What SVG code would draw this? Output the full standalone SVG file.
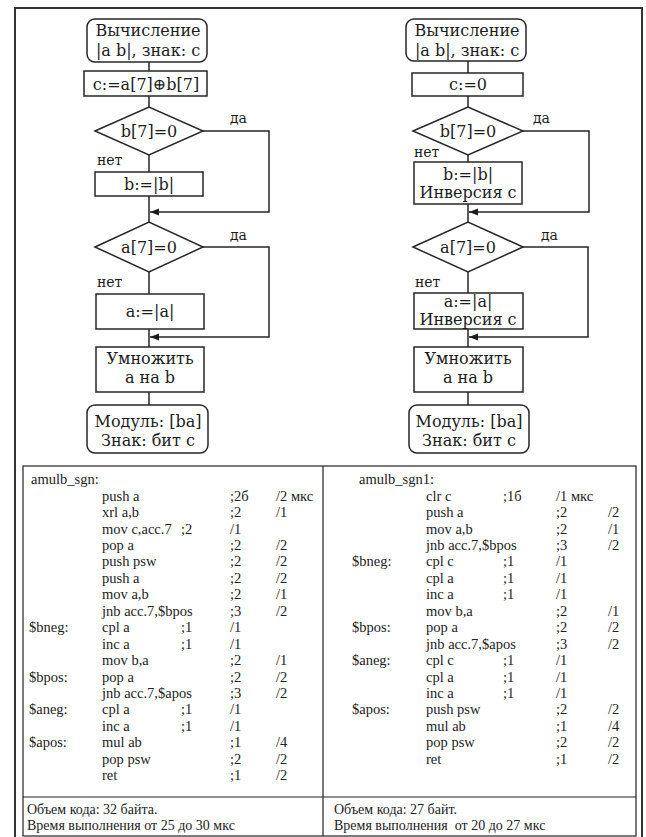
<svg xmlns="http://www.w3.org/2000/svg" width="646" height="837" viewBox="0 0 646 837">
<style>
  .fc text { font-family: "DejaVu Serif", "Liberation Serif", serif; font-size: 16px; fill: #1c1c1c; text-anchor: middle; }
  .fc text.lbl { font-size: 14px; text-anchor: start; }
  .box { fill: #fff; stroke: #262626; stroke-width: 1.5; }
  .wire { fill: none; stroke: #262626; stroke-width: 1.5; }
  .frame { fill: none; stroke: #333; stroke-width: 2; }
  .grid { fill: none; stroke: #222; stroke-width: 1.2; }
  .code text { font-family: "Liberation Serif", "Times New Roman", serif; font-size: 14.5px; fill: #222; }
  .code text.sum { font-size: 14px; }
</style>
<defs>
  <marker id="arr" markerUnits="userSpaceOnUse" markerWidth="10" markerHeight="8" refX="9" refY="3.5" orient="auto">
    <path d="M0,0 L9,3.5 L0,7 z" fill="#1c1c1c"/>
  </marker>
</defs>
<rect width="646" height="837" fill="#fff"/>
<path class="frame" d="M15,840 V8 H642 V840"/>

<!-- left flowchart: sign via XOR -->
<g class="fc">
  <g id="l-start"><rect class="box" x="87" y="19" width="120" height="43" rx="8"/><text x="148" y="36">Вычисление</text><text x="148" y="56">|a b|, знак: c</text></g>
  <g id="l-xor"><rect class="box" x="84" y="71" width="123" height="25"/><text x="146" y="90">c:=a[7]⊕b[7]</text></g>
  <g id="l-testb"><polygon class="box" points="95,131 149,107 203,131 149,155"/><text x="149" y="137">b[7]=0</text></g>
  <g id="l-absb"><rect class="box" x="95" y="172" width="108" height="24"/><text x="149" y="190">b:=|b|</text></g>
  <g id="l-testa"><polygon class="box" points="95,247 149,222 203,247 149,272"/><text x="149" y="253">a[7]=0</text></g>
  <g id="l-absa"><rect class="box" x="96" y="294" width="108" height="35"/><text x="150" y="317">a:=|a|</text></g>
  <g id="l-mul"><rect class="box" x="96" y="347" width="108" height="45"/><text x="150" y="364">Умножить</text><text x="150" y="383">a на b</text></g>
  <g id="l-end"><rect class="box" x="87" y="405" width="121" height="48" rx="8"/><text x="148" y="427">Модуль: [ba]</text><text x="148" y="446">Знак: бит c</text></g>
  <text class="lbl" x="230" y="123">да</text>
  <text class="lbl" x="97" y="165">нет</text>
  <text class="lbl" x="230" y="240">да</text>
  <text class="lbl" x="97" y="287">нет</text>
</g>

<!-- right flowchart: sign via inversion -->
<g class="fc">
  <g id="r-start"><rect class="box" x="406" y="19" width="120" height="42" rx="8"/><text x="467" y="36">Вычисление</text><text x="467" y="56">|a b|, знак: c</text></g>
  <g id="r-clr"><rect class="box" x="412" y="73" width="111" height="23"/><text x="468" y="90">c:=0</text></g>
  <g id="r-testb"><polygon class="box" points="413,131 468,107 523,131 468,155"/><text x="468" y="137">b[7]=0</text></g>
  <g id="r-absb"><rect class="box" x="414" y="162" width="108" height="42"/><text x="468" y="180">b:=|b|</text><text x="468" y="198">Инверсия c</text></g>
  <g id="r-testa"><polygon class="box" points="413,247 468,222 523,247 468,272"/><text x="468" y="253">a[7]=0</text></g>
  <g id="r-absa"><rect class="box" x="414" y="293" width="109" height="36"/><text x="468" y="307">a:=|a|</text><text x="468" y="325">Инверсия c</text></g>
  <g id="r-mul"><rect class="box" x="414" y="347" width="109" height="45"/><text x="468" y="364">Умножить</text><text x="468" y="383">a на b</text></g>
  <g id="r-end"><rect class="box" x="409" y="405" width="120" height="48" rx="8"/><text x="469" y="427">Модуль: [ba]</text><text x="469" y="446">Знак: бит c</text></g>
  <text class="lbl" x="533" y="123">да</text>
  <text class="lbl" x="414" y="157">нет</text>
  <text class="lbl" x="541" y="240">да</text>
  <text class="lbl" x="415" y="287">нет</text>
</g>

<!-- connectors -->
<g id="connectors">
  <path class="wire" d="M149,62 V71 M149,96 V107 M149,155 V172 M149,196 V222 M149,272 V294 M149,329 V347 M149,392 V405"/>
  <path class="wire" d="M203,131 H269 V212 H150" marker-end="url(#arr)"/>
  <path class="wire" d="M203,247 H269 V337 H150" marker-end="url(#arr)"/>
  <path class="wire" d="M468,61 V73 M468,96 V107 M468,155 V162 M468,204 V222 M468,272 V293 M468,329 V347 M468,392 V405"/>
  <path class="wire" d="M523,131 H589 V212 H469" marker-end="url(#arr)"/>
  <path class="wire" d="M523,247 H588 V337 H469" marker-end="url(#arr)"/>
</g>

<!-- listing table -->
<g id="table">
  <rect class="grid" x="23" y="466" width="613" height="370"/>
  <path class="grid" d="M323,466 V836 M23,797 H636"/>
</g>

<g class="code" id="code-left">
  <text x="31" y="484">amulb_sgn:</text>
  <text x="102" y="500.5">push a</text><text x="230" y="500.5">;2б</text><text x="276" y="500.5">/2 мкс</text>
  <text x="102" y="517">xrl a,b</text><text x="230" y="517">;2</text><text x="276" y="517">/1</text>
  <text x="102" y="533.5">mov c,acc.7</text><text x="181" y="533.5">;2</text><text x="230" y="533.5">/1</text>
  <text x="102" y="550">pop a</text><text x="230" y="550">;2</text><text x="276" y="550">/2</text>
  <text x="102" y="566">push psw</text><text x="230" y="566">;2</text><text x="276" y="566">/2</text>
  <text x="102" y="582.5">push a</text><text x="230" y="582.5">;2</text><text x="276" y="582.5">/2</text>
  <text x="102" y="599">mov a,b</text><text x="230" y="599">;2</text><text x="276" y="599">/1</text>
  <text x="102" y="615.5">jnb acc.7,$bpos</text><text x="230" y="615.5">;3</text><text x="276" y="615.5">/2</text>
  <text x="29" y="632">$bneg:</text><text x="102" y="632">cpl a</text><text x="181" y="632">;1</text><text x="230" y="632">/1</text>
  <text x="102" y="648.5">inc a</text><text x="181" y="648.5">;1</text><text x="230" y="648.5">/1</text>
  <text x="102" y="665">mov b,a</text><text x="230" y="665">;2</text><text x="276" y="665">/1</text>
  <text x="29" y="681.5">$bpos:</text><text x="102" y="681.5">pop a</text><text x="230" y="681.5">;2</text><text x="276" y="681.5">/2</text>
  <text x="102" y="698">jnb acc.7,$apos</text><text x="230" y="698">;3</text><text x="276" y="698">/2</text>
  <text x="29" y="714">$aneg:</text><text x="102" y="714">cpl a</text><text x="181" y="714">;1</text><text x="230" y="714">/1</text>
  <text x="102" y="730.5">inc a</text><text x="181" y="730.5">;1</text><text x="230" y="730.5">/1</text>
  <text x="29" y="747">$apos:</text><text x="102" y="747">mul ab</text><text x="230" y="747">;1</text><text x="276" y="747">/4</text>
  <text x="102" y="763.5">pop psw</text><text x="230" y="763.5">;2</text><text x="276" y="763.5">/2</text>
  <text x="102" y="780">ret</text><text x="230" y="780">;1</text><text x="276" y="780">/2</text>
  <text class="sum" x="27" y="814">Объем кода: 32 байта.</text>
  <text class="sum" x="27" y="830">Время выполнения от 25 до 30 мкс</text>
</g>

<g class="code" id="code-right">
  <text x="359" y="484">amulb_sgn1:</text>
  <text x="426" y="500.5">clr c</text><text x="503" y="500.5">;1б</text><text x="556" y="500.5">/1 мкс</text>
  <text x="426" y="517">push a</text><text x="556" y="517">;2</text><text x="608" y="517">/2</text>
  <text x="426" y="533.5">mov a,b</text><text x="556" y="533.5">;2</text><text x="608" y="533.5">/1</text>
  <text x="426" y="550">jnb acc.7,$bpos</text><text x="556" y="550">;3</text><text x="608" y="550">/2</text>
  <text x="352" y="566">$bneg:</text><text x="426" y="566">cpl c</text><text x="503" y="566">;1</text><text x="556" y="566">/1</text>
  <text x="426" y="582.5">cpl a</text><text x="503" y="582.5">;1</text><text x="556" y="582.5">/1</text>
  <text x="426" y="599">inc a</text><text x="503" y="599">;1</text><text x="556" y="599">/1</text>
  <text x="426" y="615.5">mov b,a</text><text x="556" y="615.5">;2</text><text x="608" y="615.5">/1</text>
  <text x="352" y="632">$bpos:</text><text x="426" y="632">pop a</text><text x="556" y="632">;2</text><text x="608" y="632">/2</text>
  <text x="426" y="648.5">jnb acc.7,$apos</text><text x="556" y="648.5">;3</text><text x="608" y="648.5">/2</text>
  <text x="352" y="665">$aneg:</text><text x="426" y="665">cpl c</text><text x="503" y="665">;1</text><text x="556" y="665">/1</text>
  <text x="426" y="681.5">cpl a</text><text x="503" y="681.5">;1</text><text x="556" y="681.5">/1</text>
  <text x="426" y="698">inc a</text><text x="503" y="698">;1</text><text x="556" y="698">/1</text>
  <text x="352" y="714">$apos:</text><text x="426" y="714">push psw</text><text x="556" y="714">;2</text><text x="608" y="714">/2</text>
  <text x="426" y="730.5">mul ab</text><text x="556" y="730.5">;1</text><text x="608" y="730.5">/4</text>
  <text x="426" y="747">pop psw</text><text x="556" y="747">;2</text><text x="608" y="747">/2</text>
  <text x="426" y="763.5">ret</text><text x="556" y="763.5">;1</text><text x="608" y="763.5">/2</text>
  <text class="sum" x="334" y="814">Объем кода: 27 байт.</text>
  <text class="sum" x="334" y="830" xml:space="preserve">Время выполнения  от 20 до 27 мкс</text>
</g>
</svg>
